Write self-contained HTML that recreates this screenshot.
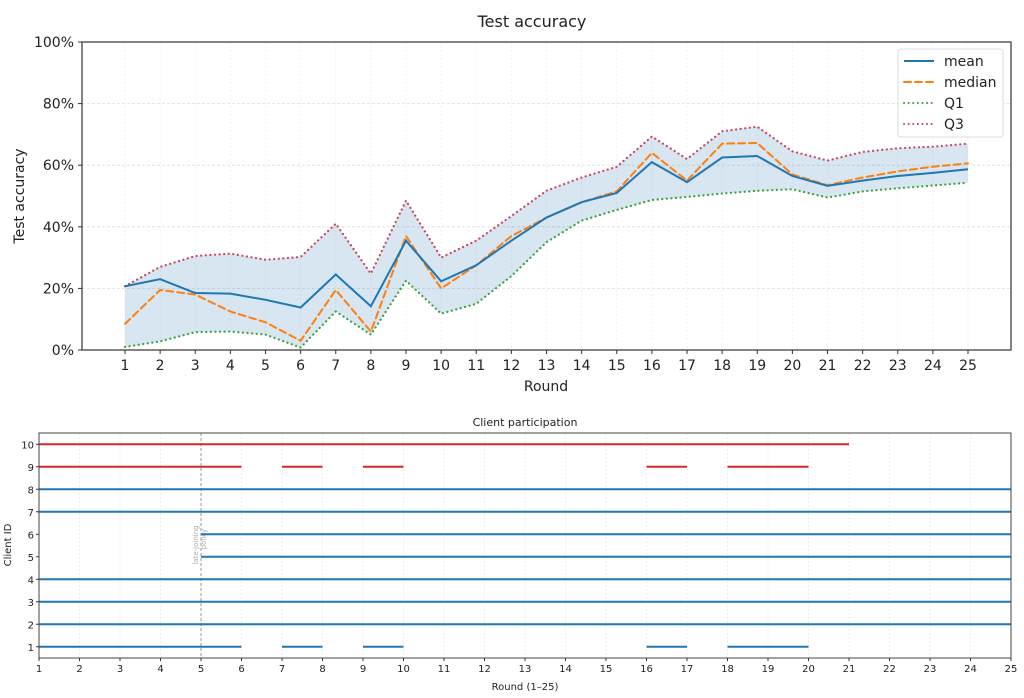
<!DOCTYPE html>
<html><head><meta charset="utf-8">
<style>
html,body{margin:0;padding:0;background:#fff;}
svg{display:block;font-family:"DejaVu Sans","Liberation Sans",sans-serif;}
</style></head>
<body>
<svg id="chart" width="1024" height="698" viewBox="0 0 1024 698" xmlns="http://www.w3.org/2000/svg"></svg>
<script>
const rounds = [1,2,3,4,5,6,7,8,9,10,11,12,13,14,15,16,17,18,19,20,21,22,23,24,25];
const meanVals = [20.7,23,18.5,18.3,16.3,13.8,24.5,14.2,35.5,22.3,27.5,35.5,43,48,51,61,54.5,62.5,63,56.5,53.3,55,56.5,57.5,58.7];
const medianVals = [8.5,19.5,18,12.5,9,3,19.5,6,37,20,27.5,37,43,48,51.5,64,55,67,67.2,57,53.5,56,58,59.5,60.6];
const q1Vals = [1,2.8,5.8,6,5,0.8,12.5,5,22.5,11.8,15,24,35,42,45.5,48.7,49.7,50.8,51.7,52.2,49.5,51.5,52.5,53.4,54.3];
const q3Vals = [20.7,27,30.5,31.3,29.3,30.2,41,24.8,48.5,30,35.5,43.5,51.7,56,59.5,69.3,62,71,72.5,64.5,61.5,64.3,65.5,66,67];
const yTicks = [0,20,40,60,80,100];
const clientIds = [1,2,3,4,5,6,7,8,9,10];
const clientSegments = [
 [[1,6],[7,8],[9,10],[16,17],[18,20]],
 [[1,25]],[[1,25]],[[1,25]],[[5,25]],[[5,25]],[[1,25]],[[1,25]],
 [[1,6],[7,8],[9,10],[16,17],[18,20]],
 [[1,21]]
];
const clientColors = ['#1f77b4','#1f77b4','#1f77b4','#1f77b4','#1f77b4','#1f77b4','#1f77b4','#1f77b4','#d62728','#d62728'];
const partTicks = [1,2,3,4,5,6,7,8,9,10,11,12,13,14,15,16,17,18,19,20,21,22,23,24,25];
const lateJoinRound = 5;

const svg = document.getElementById('chart');
const NS = 'http://www.w3.org/2000/svg';
function mk(tag, attrs, parent){const e=document.createElementNS(NS,tag);for(const k in attrs)e.setAttribute(k,attrs[k]);(parent||svg).appendChild(e);return e;}
function txt(s, attrs, parent){const e=mk('text',attrs,parent);e.textContent=s;return e;}

// ---- Top chart ----
const L=82,R=1011,T=42,B=350;
const xs = r => 125 + (r-1)*(968-125)/24;
const ys = v => B - v/100*(B-T);
const topG = mk('g',{});


txt('Test accuracy',{x:532,y:27,'text-anchor':'middle','font-size':16,fill:'#222'},topG);
rounds.forEach(r=>{mk('line',{x1:xs(r),x2:xs(r),y1:T,y2:B,stroke:'#eee','stroke-width':0.7,'stroke-dasharray':'2,2'},topG);});
yTicks.forEach(v=>{
  mk('line',{x1:L,x2:R,y1:ys(v),y2:ys(v),stroke:'#ddd','stroke-width':0.8,'stroke-dasharray':'3,2'},topG);
  mk('line',{x1:L-4,x2:L,y1:ys(v),y2:ys(v),stroke:'#333'},topG);
  const t=txt(v+'%',{x:L-8,y:ys(v)+5,'text-anchor':'end','font-size':14,fill:'#222'},topG);
  
});
rounds.forEach(r=>{
  mk('line',{x1:xs(r),x2:xs(r),y1:B,y2:B+4,stroke:'#333'},topG);
  const t=txt(String(r),{x:xs(r),y:B+20,'text-anchor':'middle','font-size':14,fill:'#222'},topG);
  
});
let band='M'+rounds.map((r,i)=>xs(r)+','+ys(q3Vals[i])).join(' L')+' L'+rounds.slice().reverse().map((r,j)=>{const i=rounds.length-1-j;return xs(r)+','+ys(q1Vals[i]);}).join(' L')+'Z';
const bandEl=mk('path',{d:band,fill:'#1f77b4','fill-opacity':0.18,stroke:'none'},topG);


function line(vals,color,dash,w,name){
  const p=mk('polyline',{points:rounds.map((r,i)=>xs(r)+','+ys(vals[i])).join(' '),fill:'none',stroke:color,'stroke-width':w,'stroke-dasharray':dash,'stroke-linecap':dash?'round':'butt'},topG);
  
  
}
line(q3Vals,'#c8475a','0.1,4.5',2.2,'q3-line');
line(q1Vals,'#3ca03c','0.1,4.5',2.2,'q1-line');
line(medianVals,'#ff7f0e','7,4',2,'median-line');
line(meanVals,'#1f77b4','',2,'mean-line');
mk('rect',{x:L,y:T,width:R-L,height:B-T,fill:'none',stroke:'#333','stroke-width':1.2},topG);
txt('Round',{x:546,y:391,'text-anchor':'middle','font-size':14,fill:'#222'},topG);
txt('Test accuracy',{x:0,y:0,'text-anchor':'middle','font-size':14,fill:'#222',transform:'translate(24,196) rotate(-90)'},topG);
const lg=mk('g',{},topG);


mk('rect',{x:898,y:49,width:105,height:88,fill:'#fff','fill-opacity':0.9,stroke:'#ddd',rx:3},lg);
[['mean','#1f77b4',''],['median','#ff7f0e','7,4'],['Q1','#3ca03c','0.1,4.5'],['Q3','#c8475a','0.1,4.5']].forEach((e,i)=>{
  const y=61+i*21;
  mk('line',{x1:904,x2:934,y1:y,y2:y,stroke:e[1],'stroke-width':2,'stroke-dasharray':e[2],'stroke-linecap':e[2]?'round':'butt'},lg);
  const t=txt(e[0],{x:944,y:y+5,'font-size':14,fill:'#222'},lg);
  
});

// ---- Bottom chart ----
const L2=39,R2=1011,T2=433,B2=658;
const xp = r => L2 + (r-1)*(R2-L2)/24;
const yp = c => B2 - (c-0.5)*(B2-T2)/10;
const bot=mk('g',{});


txt('Client participation',{x:525,y:426,'text-anchor':'middle','font-size':11,fill:'#222'},bot);
partTicks.forEach(r=>{
  mk('line',{x1:xp(r),x2:xp(r),y1:T2,y2:B2,stroke:'#f0e0e0','stroke-width':0.6,'stroke-dasharray':'2,2'},bot);
  mk('line',{x1:xp(r),x2:xp(r),y1:B2,y2:B2+3,stroke:'#333'},bot);
  const t=txt(String(r),{x:xp(r),y:B2+14,'text-anchor':'middle','font-size':10,fill:'#222'},bot);
  
});
clientIds.forEach(c=>{
  mk('line',{x1:L2-3,x2:L2,y1:yp(c),y2:yp(c),stroke:'#333'},bot);
  const t=txt(String(c),{x:L2-5,y:yp(c)+4,'text-anchor':'end','font-size':10,fill:'#222'},bot);
  
});
mk('line',{x1:xp(lateJoinRound),x2:xp(lateJoinRound),y1:T2,y2:B2,stroke:'#999','stroke-width':1,'stroke-dasharray':'3,2'},bot);
txt('late-joining',{x:0,y:0,'font-size':7,fill:'#aaa','text-anchor':'middle',transform:`translate(${xp(lateJoinRound)-3},545) rotate(-90)`},bot);
txt('policy',{x:0,y:0,'font-size':7,fill:'#aaa','text-anchor':'middle',transform:`translate(${xp(lateJoinRound)+5},539) rotate(-90)`},bot);
clientIds.forEach((c,i)=>{
  clientSegments[i].forEach(s=>{
    const ln=mk('line',{x1:xp(s[0]),x2:xp(s[1]),y1:yp(c),y2:yp(c),stroke:clientColors[i],'stroke-width':2},bot);
    
    
  });
});
mk('rect',{x:L2,y:T2,width:R2-L2,height:B2-T2,fill:'none',stroke:'#444','stroke-width':1},bot);
txt('Round (1–25)',{x:525,y:690,'text-anchor':'middle','font-size':10,fill:'#222'},bot);
txt('Client ID',{x:0,y:0,'text-anchor':'middle','font-size':10,fill:'#222',transform:'translate(11,545) rotate(-90)'},bot);
</script>
</body></html>
